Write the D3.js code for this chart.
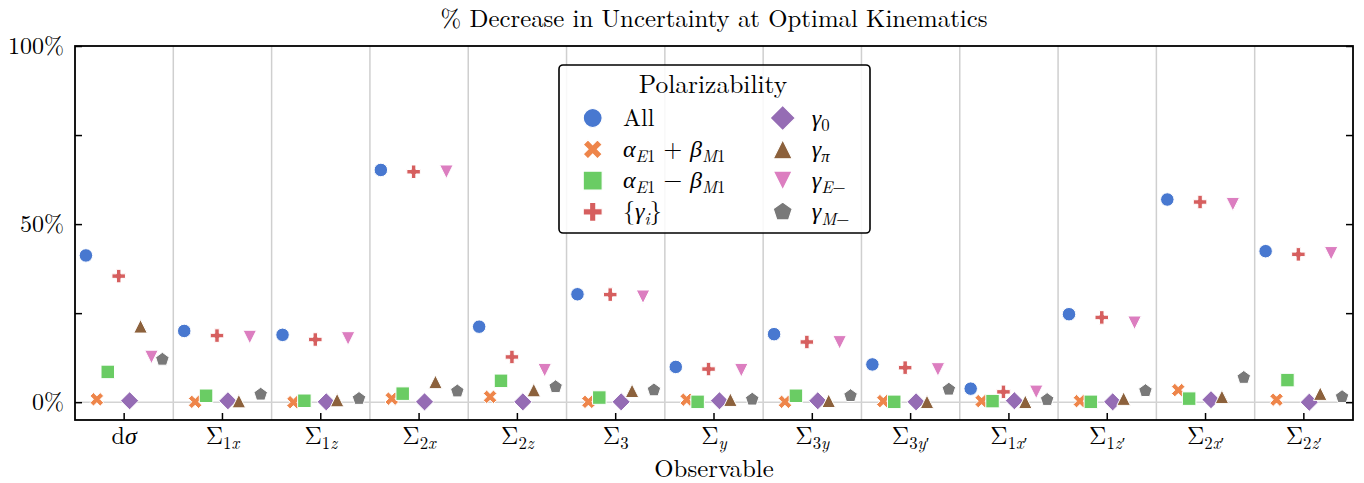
<!DOCTYPE html>
<html>
<head>
<meta charset="utf-8">
<script src="https://cdn.jsdelivr.net/npm/d3@7"></script>
</head>
<body style="margin:0;background:#fff">
<svg id="chart" width="1364" height="483"></svg>
<script>
// ---------------- DATA ----------------
const categories = ["dσ", "Σ1x", "Σ1z", "Σ2x", "Σ2z", "Σ3", "Σy", "Σ3y", "Σ3y′", "Σ1x′", "Σ1z′", "Σ2x′", "Σ2z′"];

const seriesKeys = ["All", "aE1+bM1", "aE1-bM1", "{gi}", "g0", "gpi", "gE-", "gM-"];

const valAll      = [41.2, 20.0, 18.9, 65.2, 21.2, 30.3,  9.9, 19.1, 10.6, 3.8, 24.7, 56.9, 42.4];
const valAlphaSum = [ 0.8,  0.1,  0.0,  1.0,  1.5,  0.1,  0.7,  0.1,  0.3, 0.3,  0.3,  3.4,  0.7];
const valAlphaDif = [ 8.5,  1.8,  0.4,  2.4,  6.0,  1.3,  0.1,  1.8,  0.1, 0.3,  0.1,  1.0,  6.2];
const valGammaI   = [35.4, 18.7, 17.6, 64.7, 12.7, 30.2,  9.3, 16.9,  9.7, 2.9, 23.8, 56.2, 41.5];
const valGamma0   = [ 0.4,  0.4,  0.1,  0.1,  0.1,  0.1,  0.4,  0.4,  0.1, 0.4,  0.1,  0.7,  0.0];
const valGammaPi  = [21.3,  0.3,  0.6,  5.7,  3.4,  3.2,  0.7,  0.4,  0.1, 0.1,  1.0,  1.5,  2.4];
const valGammaEm  = [12.7, 18.3, 17.9, 64.7,  9.0, 29.6,  9.0, 16.8,  9.2, 2.9, 22.3, 55.6, 41.8];
const valGammaMm  = [12.0,  2.2,  1.0,  3.1,  4.3,  3.4,  0.8,  1.8,  3.6, 0.7,  3.2,  6.9,  1.5];

const seriesValues = [valAll, valAlphaSum, valAlphaDif, valGammaI, valGamma0, valGammaPi, valGammaEm, valGammaMm];

// legend labels as [text, italic, subscript] segments
const seriesLabels = [
  [["All", 0, 0]],
  [["α", 1, 0], ["E", 1, 1], ["1", 0, 1], [" + ", 0, 0], ["β", 1, 0], ["M", 1, 1], ["1", 0, 1]],
  [["α", 1, 0], ["E", 1, 1], ["1", 0, 1], [" − ", 0, 0], ["β", 1, 0], ["M", 1, 1], ["1", 0, 1]],
  [["{", 0, 0], ["γ", 1, 0], ["i", 1, 1], ["}", 0, 0]],
  [["γ", 1, 0], ["0", 0, 1]],
  [["γ", 1, 0], ["π", 1, 1]],
  [["γ", 1, 0], ["E", 1, 1], ["−", 0, 1]],
  [["γ", 1, 0], ["M", 1, 1], ["−", 0, 1]]
];

const yTicks = [0, 25, 50, 75, 100];
const yTickLabels = ["0%", "", "50%", "", "100%"];
const titleText = "% Decrease in Uncertainty at Optimal Kinematics";
const xLabelText = "Observable";
const legendTitle = "Polarizability";

// ---------------- STYLE ----------------
const FONT = '"Latin Modern Roman", "Liberation Serif", "DejaVu Serif"';
const GREEK = '"Liberation Serif", "DejaVu Serif"';
const colors = ["#4878d0", "#ee854a", "#6acc64", "#d65f5f", "#956cb4", "#8c613c", "#dc7ec0", "#797979"];
const markers = ["circle", "x", "square", "plus", "diamond", "triup", "tridown", "pentagon"];

const W = 1364, H = 483;
const M = { left: 75, right: 1353, top: 46, bottom: 420 };

const svg = d3.select("#chart");

const x = d3.scaleBand().domain(categories).range([M.left, M.right]).padding(0);
const off = d3.scaleLinear().domain([-1, seriesKeys.length]).range([0, x.bandwidth()]);
const y = d3.scaleLinear().domain([-5, 100]).range([M.bottom, M.top]);

function markerPath(type, ms) {
  const h = ms / 2;
  const poly = pts => "M" + pts.map(p => p[0].toFixed(2) + "," + p[1].toFixed(2)).join("L") + "Z";
  switch (type) {
    case "circle": return d3.symbol(d3.symbolCircle, Math.PI * h * h)();
    case "square": return poly([[-h, -h], [h, -h], [h, h], [-h, h]]);
    case "diamond": { const r = h * Math.SQRT2 * 0.95; return poly([[0, -r], [r, 0], [0, r], [-r, 0]]); }
    case "triup": return poly([[0, -h], [h, h], [-h, h]]);
    case "tridown": return poly([[0, h], [h, -h], [-h, -h]]);
    case "pentagon": {
      const pts = d3.range(5).map(k => { const a = (-90 + 72 * k) * Math.PI / 180; return [h * 1.05 * Math.cos(a), h * 1.05 * Math.sin(a)]; });
      return poly(pts);
    }
    case "plus": {
      const b = [[-1, -3], [-1, -1], [-3, -1], [-3, 1], [-1, 1], [-1, 3], [1, 3], [1, 1], [3, 1], [3, -1], [1, -1], [1, -3]];
      return poly(b.map(p => [p[0] / 6 * ms, p[1] / 6 * ms]));
    }
    case "x": {
      const b = [[-1, -2], [0, -1], [1, -2], [2, -1], [1, 0], [2, 1], [1, 2], [0, 1], [-1, 2], [-2, 1], [-1, 0], [-2, -1]];
      return poly(b.map(p => [p[0] / 4 * ms, p[1] / 4 * ms]));
    }
  }
}

const isGreek = s => /[\u0370-\u03ff]/.test(s);

function rich(textSel, segs, fs) {
  let cur = 0;
  segs.forEach(([str, it, sub]) => {
    const target = sub ? fs * 0.22 : 0;
    textSel.append("tspan")
      .attr("dy", (target - cur).toFixed(2))
      .attr("font-size", sub ? fs * 0.7 : fs)
      .attr("font-style", it ? "italic" : "normal")
      .attr("font-family", isGreek(str) && str !== "Σ" ? GREEK : FONT)
      .attr("xml:space", "preserve")
      .text(str);
    cur = target;
  });
}

function catSegs(c) {
  if (c === "dσ") return [["d", 0, 0], ["σ", 1, 0]];
  const segs = [["Σ", 0, 0]];
  for (const ch of c.slice(1)) {
    const it = /[a-z]/.test(ch) ? 1 : 0;
    segs.push([ch, it, 1]);
  }
  return segs;
}

// ---------------- GRID ----------------
const grid = svg.append("g");
grid.selectAll("line.sep")
  .data(categories.slice(1))
  .join("line")
  .attr("x1", d => x(d)).attr("x2", d => x(d))
  .attr("y1", M.top).attr("y2", M.bottom)
  .attr("stroke", "#cfcfcf").attr("stroke-width", 1.5);
grid.append("line")
  .attr("x1", M.left).attr("x2", M.right)
  .attr("y1", y(0)).attr("y2", y(0))
  .attr("stroke", "#d3d3d3").attr("stroke-width", 1.5);

// ---------------- MARKERS ----------------
const pts = svg.append("g");
seriesKeys.forEach((key, j) => {
  pts.append("g").selectAll("path")
    .data(seriesValues[j].map((v, i) => ({ c: categories[i], v })))
    .join("path")
    .attr("d", markerPath(markers[j], 13.5))
    .attr("transform", d => `translate(${x(d.c) + off(j)},${y(d.v)})`)
    .attr("fill", colors[j])
    .attr("stroke", "#fff")
    .attr("stroke-width", 1);
});

// ---------------- AXES ----------------
const axL = svg.append("g").attr("transform", `translate(${M.left},0)`)
  .call(d3.axisLeft(y).tickValues(yTicks).tickSize(-7).tickPadding(11)
    .tickFormat((d, i) => yTickLabels[i]));
const axR = svg.append("g").attr("transform", `translate(${M.right},0)`)
  .call(d3.axisRight(y).tickValues(yTicks).tickSize(-7).tickFormat(() => ""));
const axB = svg.append("g").attr("transform", `translate(0,${M.bottom})`)
  .call(d3.axisBottom(x).tickSize(-7).tickFormat(() => ""));
[axL, axR, axB].forEach(a => {
  a.attr("font-family", FONT);
  a.select(".domain").remove();
  a.selectAll(".tick line").attr("stroke", "#000").attr("stroke-width", 1.5);
});
axL.selectAll(".tick text").attr("font-size", 24).attr("font-family", FONT).attr("fill", "#000");

svg.append("rect")
  .attr("x", M.left).attr("y", M.top)
  .attr("width", M.right - M.left).attr("height", M.bottom - M.top)
  .attr("fill", "none").attr("stroke", "#000").attr("stroke-width", 1.8);

// category labels
const catG = svg.append("g");
categories.forEach(c => {
  const t = catG.append("text")
    .attr("x", x(c) + x.bandwidth() / 2)
    .attr("y", 444)
    .attr("font-family", FONT)
    .attr("text-anchor", "middle");
  rich(t, catSegs(c), 24);
});

// x label
svg.append("text").attr("x", (M.left + M.right) / 2).attr("y", 477)
  .attr("font-family", FONT)
  .attr("text-anchor", "middle").attr("font-size", 24.8).text(xLabelText);

// title
svg.append("text").attr("x", (M.left + M.right) / 2).attr("y", 27)
  .attr("font-family", FONT)
  .attr("text-anchor", "middle").attr("font-size", 24.8).text(titleText);

// ---------------- LEGEND ----------------
const lg = svg.append("g");
lg.append("rect").attr("x", 559).attr("y", 65).attr("width", 311).attr("height", 168)
  .attr("rx", 4).attr("ry", 4)
  .attr("fill", "#fff").attr("fill-opacity", 0.85)
  .attr("stroke", "#000").attr("stroke-width", 1.6);
lg.append("text").attr("x", 713).attr("y", 93).attr("text-anchor", "middle")
  .attr("font-family", FONT)
  .attr("font-size", 25.5).text(legendTitle);
seriesKeys.forEach((key, j) => {
  const col = Math.floor(j / 4), row = j % 4;
  const mx = col === 0 ? 592.7 : 782.7;
  const lx = col === 0 ? 623 : 811.7;
  const my = 118 + row * 31.3;
  lg.append("path").attr("d", markerPath(markers[j], 19))
    .attr("transform", `translate(${mx},${my})`)
    .attr("fill", colors[j]).attr("stroke", "#fff").attr("stroke-width", 1.2);
  const t = lg.append("text").attr("x", lx).attr("y", my + 7.5).attr("font-family", FONT);
  rich(t, seriesLabels[j], 24);
});
</script>
</body>
</html>
